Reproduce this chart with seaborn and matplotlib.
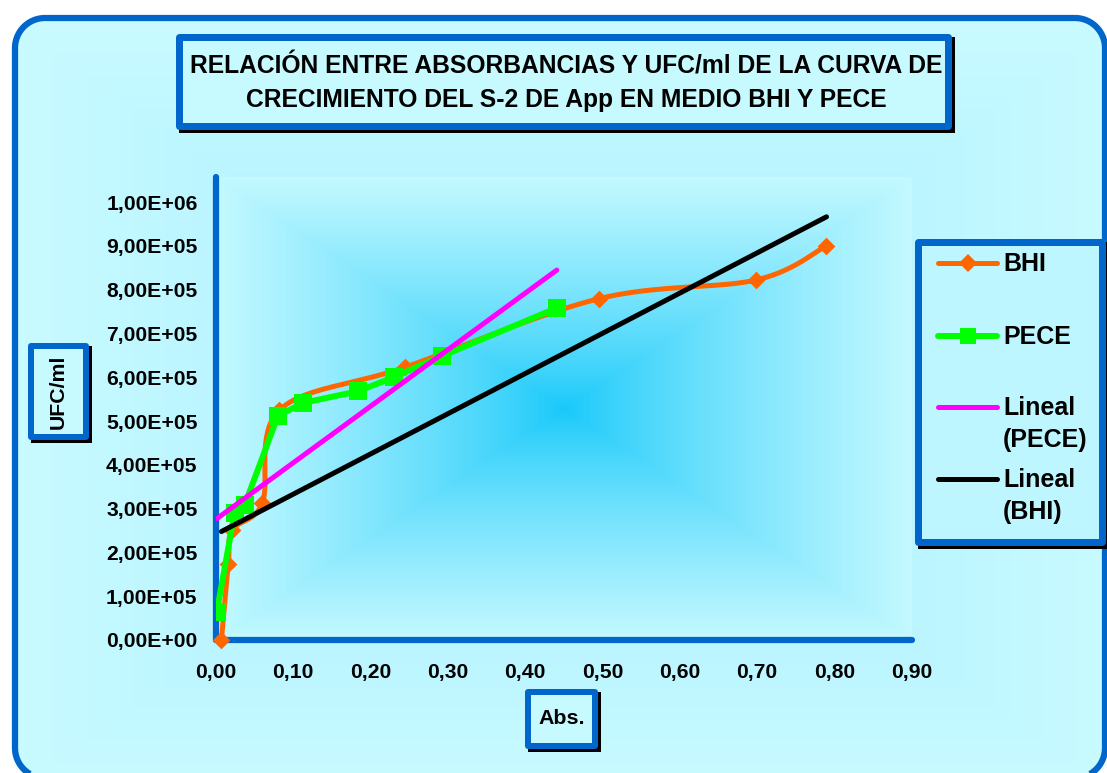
import numpy as np
import matplotlib
matplotlib.use("Agg")
import matplotlib.pyplot as plt
import seaborn as sns
from matplotlib.patches import Rectangle, PathPatch, Polygon
from matplotlib.path import Path
from matplotlib.lines import Line2D
from matplotlib.colors import to_rgb

# Growth curve of strain S-2 (App): absorbance vs. colony counts
bhi_abs = [0.007, 0.016, 0.021, 0.060, 0.082, 0.245, 0.495, 0.699, 0.790]
bhi_ufc = [0.0, 1.74e5, 2.51e5, 3.13e5, 5.25e5, 6.23e5, 7.79e5, 8.22e5, 9.00e5]

pece_abs = [0.001, 0.024, 0.037, 0.080, 0.112, 0.184, 0.230, 0.292, 0.441]
pece_ufc = [0.64e5, 2.90e5, 3.08e5, 5.11e5, 5.41e5, 5.68e5, 6.00e5, 6.48e5, 7.58e5]

x_ticks = [0.0, 0.1, 0.2, 0.3, 0.4, 0.5, 0.6, 0.7, 0.8, 0.9]
y_ticks = [0, 1e5, 2e5, 3e5, 4e5, 5e5, 6e5, 7e5, 8e5, 9e5, 1e6]

title_lines = ["RELACIÓN ENTRE ABSORBANCIAS Y UFC/ml DE LA CURVA DE",
               "CRECIMIENTO DEL S-2 DE App EN MEDIO BHI Y PECE"]
x_label = "Abs."
y_label = "UFC/ml"
legend_labels = [["BHI"], ["PECE"], ["Lineal", "(PECE)"], ["Lineal", "(BHI)"]]

BLUE = "#0066CC"
ORANGE = "#FF6600"
GREEN = "#00FF00"
MAGENTA = "#FF00FF"
BLACK = "#000000"

sns.set_style("white")
plt.rcParams["font.family"] = ["Liberation Sans", "DejaVu Sans"]
plt.rcParams["font.weight"] = "bold"
plt.rcParams["text.color"] = "black"

W, H = 1107, 773
fig = plt.figure(figsize=(W / 100, H / 100), dpi=100)
fig.patch.set_facecolor("white")


def rect_gradient(w, h, cx, cy, hw, hh, c0, c1, gamma=1.0):
    yy, xx = np.mgrid[0:h, 0:w] + 0.5
    t = np.maximum(np.abs(xx - cx) / hw, np.abs(yy - cy) / hh)
    t = np.clip(t, 0, 1) ** gamma
    a = np.array(to_rgb(c0))
    b = np.array(to_rgb(c1))
    return a + (b - a) * t[..., None]


def rounded_outline(x0, y0, x1, y1, r, n=24):
    """Rounded rectangle outline in pixel units (y downwards)."""
    pts = []
    for cx, cy, a0 in [(x1 - r, y0 + r, -90), (x1 - r, y1 - r, 0),
                       (x0 + r, y1 - r, 90), (x0 + r, y0 + r, 180)]:
        ang = np.radians(np.linspace(a0, a0 + 90, n))
        pts.extend(zip(cx + r * np.cos(ang), cy + r * np.sin(ang)))
    return np.array(pts)


def smooth_curve(xs, ys, sx, sy, n=40):
    """Bezier smoothing through the points (Catmull-Rom style), in screen-like units."""
    P = np.column_stack([np.asarray(xs) * sx, np.asarray(ys) * sy])
    out = []
    m = len(P)
    for i in range(m - 1):
        p0 = P[max(i - 1, 0)]
        p1 = P[i]
        p2 = P[i + 1]
        p3 = P[min(i + 2, m - 1)]
        c1 = p1 + (p2 - p0) / 6.0
        c2 = p2 - (p3 - p1) / 6.0
        t = np.linspace(0, 1, n)[:, None]
        seg = ((1 - t) ** 3) * p1 + 3 * ((1 - t) ** 2) * t * c1 + 3 * (1 - t) * t ** 2 * c2 + t ** 3 * p2
        out.append(seg if i == 0 else seg[1:])
    out = np.vstack(out)
    return out[:, 0] / sx, out[:, 1] / sy


# ---- background canvas in pixel units ----
bg = fig.add_axes([0, 0, 1, 1], zorder=0)
bg.axis("off")
bg_img = rect_gradient(W, H, 565, 408, 620, 430, "#A2EAFF", "#CDFDFF", gamma=0.9)
bg.imshow(bg_img, extent=(0, W, H, 0), zorder=1, interpolation="bilinear")
bg.set_aspect("auto")
bg.set_xlim(0, W)
bg.set_ylim(H, 0)

# white surround outside the rounded chart frame
frame_pts = rounded_outline(15, 18, 1105, 778, 30)
outer_rect = np.array([[-10, -10], [-10, H + 10], [W + 10, H + 10], [W + 10, -10]])
verts = np.vstack([outer_rect, outer_rect[:1], frame_pts, frame_pts[:1]])
codes = ([Path.MOVETO] + [Path.LINETO] * 3 + [Path.CLOSEPOLY]
         + [Path.MOVETO] + [Path.LINETO] * (len(frame_pts) - 1) + [Path.CLOSEPOLY])
bg.add_patch(PathPatch(Path(verts, codes), facecolor="white", edgecolor="none", zorder=2))
bg.add_patch(Polygon(frame_pts, closed=True, facecolor="none", edgecolor=BLUE,
                     linewidth=4.5, joinstyle="round", zorder=3))


def framed_box(x0, y0, x1, y1, lw_px, face="#C6FAFF", shadow=4):
    bg.add_patch(Rectangle((x0 + shadow, y0 + shadow), x1 - x0, y1 - y0,
                           facecolor="black", edgecolor="none", zorder=6))
    h = lw_px / 2
    bg.add_patch(Rectangle((x0 + h, y0 + h), x1 - x0 - lw_px, y1 - y0 - lw_px,
                           facecolor=face, edgecolor=BLUE, linewidth=lw_px * 0.72,
                           joinstyle="round", zorder=7))


# title
framed_box(175, 33, 951, 129, 7)
bg.text(566, 66, title_lines[0], ha="center", va="center", fontsize=17.7,
        fontweight="bold", color="black", zorder=8)
bg.text(566, 100, title_lines[1], ha="center", va="center", fontsize=17.7,
        fontweight="bold", color="black", zorder=8)

# axis titles
framed_box(28, 343, 89, 440, 6, shadow=3)
bg.text(58.5, 392, y_label, rotation=90, ha="center", va="center", fontsize=15.3,
        fontweight="bold", color="black", zorder=8)
framed_box(525, 689, 598, 749, 6, shadow=3)
bg.text(561.5, 719, x_label, ha="center", va="center", fontsize=15.4,
        fontweight="bold", color="black", zorder=8)

# legend
framed_box(914, 238, 1105, 545, 7, face="#BDF6FF")
legend_specs = [
    (263, ORANGE, 3.6, "D", 9),
    (336, GREEN, 4.3, "s", 12),
    (407, MAGENTA, 3.6, None, 0),
    (479, BLACK, 3.6, None, 0),
]
for (yy, col, lw, mk, ms), lab in zip(legend_specs, legend_labels):
    line = Line2D([938, 967.5, 997], [yy, yy, yy], color=col, linewidth=lw,
                  solid_capstyle="round", marker=mk, markersize=ms,
                  markeredgewidth=0, markevery=[1], zorder=9)
    bg.add_line(line)
    for k, s in enumerate(lab):
        bg.text(1003, yy + 1 + k * 32, s, ha="left", va="center", fontsize=18,
                fontweight="bold", color="black", zorder=9)

# ---- plot area ----
ax = fig.add_axes([216 / W, 1 - 640 / H, 695.5 / W, 463 / H], zorder=2)
ymax = 463 / 438 * 1e6
ax.patch.set_alpha(0)
plot_img = rect_gradient(400, 260, 200, 130, 200, 130, "#16C8FA", "#C4F9FF", gamma=0.8)
ax.imshow(plot_img, extent=(0, 0.9, 0, ymax), aspect="auto", zorder=0,
          interpolation="bilinear")

sx = 695.5 / 0.9
sy = 438 / 1e6
sm_x, sm_y = smooth_curve(bhi_abs, bhi_ufc, sx, sy)
sns.lineplot(x=sm_x, y=sm_y, sort=False, estimator=None, color=ORANGE,
             linewidth=3.6, ax=ax, zorder=3)
sns.scatterplot(x=bhi_abs, y=bhi_ufc, marker="D", s=81, color=ORANGE, linewidth=0,
                ax=ax, zorder=3.1, clip_on=False)

sns.lineplot(x=pece_abs, y=pece_ufc, sort=False, estimator=None, color=GREEN,
             linewidth=4.3, marker="s", markersize=12.5, markeredgewidth=0,
             ax=ax, zorder=4)

sns.regplot(x=np.array(pece_abs), y=np.array(pece_ufc), scatter=False, ci=None,
            truncate=True, color=MAGENTA, ax=ax,
            line_kws=dict(linewidth=3.6, solid_capstyle="round", zorder=5))
sns.regplot(x=np.array(bhi_abs), y=np.array(bhi_ufc), scatter=False, ci=None,
            truncate=True, color=BLACK, ax=ax,
            line_kws=dict(linewidth=3.6, solid_capstyle="round", zorder=6))

ax.set_xlim(0, 0.9)
ax.set_ylim(0, ymax)
ax.set_xlabel("")
ax.set_ylabel("")
ax.grid(False)

ax.set_xticks(x_ticks)
ax.set_xticklabels([f"{v:.2f}".replace(".", ",") for v in x_ticks])
ax.set_yticks(y_ticks)
ax.set_yticklabels([f"{v:.2E}".replace(".", ",") for v in y_ticks])

for side in ("top", "right"):
    ax.spines[side].set_visible(False)
for side in ("left", "bottom"):
    ax.spines[side].set_color(BLUE)
    ax.spines[side].set_linewidth(4.5)
    ax.spines[side].set_capstyle("round")
    ax.spines[side].set_zorder(2.5)

ax.tick_params(axis="both", direction="out", color=BLUE, width=4.5, length=6.5,
               labelsize=15.2, labelcolor="black")
ax.tick_params(axis="y", pad=6.8)
ax.tick_params(axis="x", pad=10)
for lab in ax.get_xticklabels() + ax.get_yticklabels():
    lab.set_fontweight("bold")

fig.savefig("out.png", dpi=100)
